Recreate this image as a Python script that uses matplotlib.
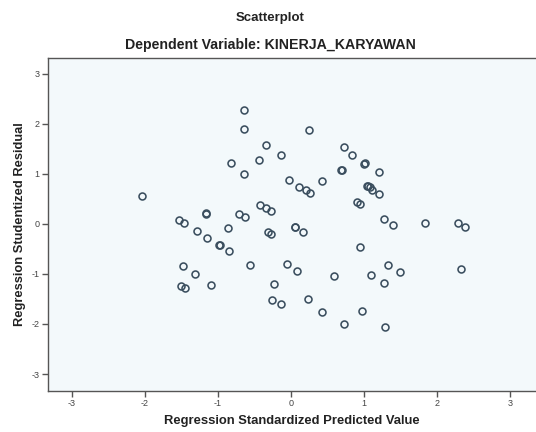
import matplotlib
matplotlib.use("Agg")
import matplotlib.pyplot as plt

plt.rcParams['font.family'] = ['Liberation Sans', 'DejaVu Sans']

pred_std = [-0.64, -0.64, -0.34, -0.14, -0.82, -0.44, -0.65, -0.03, 0.11, 0.20,
            0.26, -2.04, -0.43, -0.35, -0.28, -1.17, -1.16, -0.71, -0.63, -1.53,
            -1.47, -1.29, -0.86, -1.15, -0.99, -0.98, -0.85, -0.32, -0.27, 0.05,
            0.06, 0.17, 0.08, -1.48, -1.32, -0.56, -0.06, -1.51, -1.45, -1.10,
            -0.24, -0.26, -0.14, 0.24, 0.73, 0.83, 1.00, 1.01, 0.69, 0.70,
            1.20, 0.43, 1.04, 1.05, 1.08, 1.11, 1.21, 0.90, 0.95, 1.28,
            1.40, 1.84, 2.29, 2.38, 0.94, 0.59, 1.09, 1.33, 1.49, 1.27,
            2.33, 0.23, 0.42, 0.97, 0.72, 1.29]
resid_stud = [2.28, 1.89, 1.57, 1.38, 1.21, 1.27, 0.99, 0.88, 0.73, 0.67,
              0.61, 0.56, 0.38, 0.31, 0.25, 0.20, 0.21, 0.20, 0.13, 0.07,
              0.01, -0.15, -0.09, -0.28, -0.43, -0.42, -0.55, -0.16, -0.21, -0.06,
              -0.07, -0.17, -0.94, -0.85, -1.00, -0.82, -0.81, -1.24, -1.29, -1.22,
              -1.20, -1.52, -1.60, 1.88, 1.53, 1.37, 1.20, 1.21, 1.07, 1.08,
              1.03, 0.86, 0.76, 0.75, 0.73, 0.68, 0.60, 0.43, 0.39, 0.10,
              -0.03, 0.02, 0.02, -0.07, -0.47, -1.05, -1.03, -0.82, -0.97, -1.18,
              -0.90, -1.51, -1.76, -1.75, -2.00, -2.07]
ticks = [-3, -2, -1, 0, 1, 2, 3]

fig = plt.figure(figsize=(5.36, 4.32), dpi=100)
ax = fig.add_axes([48/536, 1-391/432, 1-48/536, (391-58)/432])
ax.set_facecolor('#f3f9fb')

ax.plot(pred_std, resid_stud, linestyle='none', marker='o', markersize=5.0,
        markerfacecolor='none', markeredgecolor='#3a4e5e', markeredgewidth=1.15)

ax.set_xlim(-3.33, 3.356)
ax.set_ylim(-3.34, 3.32)
ax.set_xticks(ticks)
ax.set_yticks(ticks)
ax.set_xticklabels([str(t) for t in ticks])
ax.set_yticklabels([str(t) for t in ticks])
ax.tick_params(axis='both', direction='out', length=4, width=1, colors='#555555',
               labelsize=6.5, pad=2, labelcolor='#444444')

for s in ['left', 'bottom', 'top']:
    ax.spines[s].set_color('#555555')
    ax.spines[s].set_linewidth(1.0)
ax.spines['right'].set_visible(False)

ax.set_xlabel('Regression Standardized Predicted Value', fontsize=9.4,
              fontweight='bold', color='#222222', labelpad=5)
ax.set_ylabel('Regression Studentized Residual', fontsize=9.3,
              fontweight='bold', color='#222222', labelpad=4)

fig.text(270/536, 1-18/432, 'Scatterplot', ha='center', va='center',
         fontsize=9.5, fontweight='bold', color='#222222')
fig.text(270/536, 1-45/432, 'Dependent Variable: KINERJA_KARYAWAN', ha='center',
         va='center', fontsize=10.2, fontweight='bold', color='#222222')

fig.savefig('out.png', dpi=100, facecolor='white')
